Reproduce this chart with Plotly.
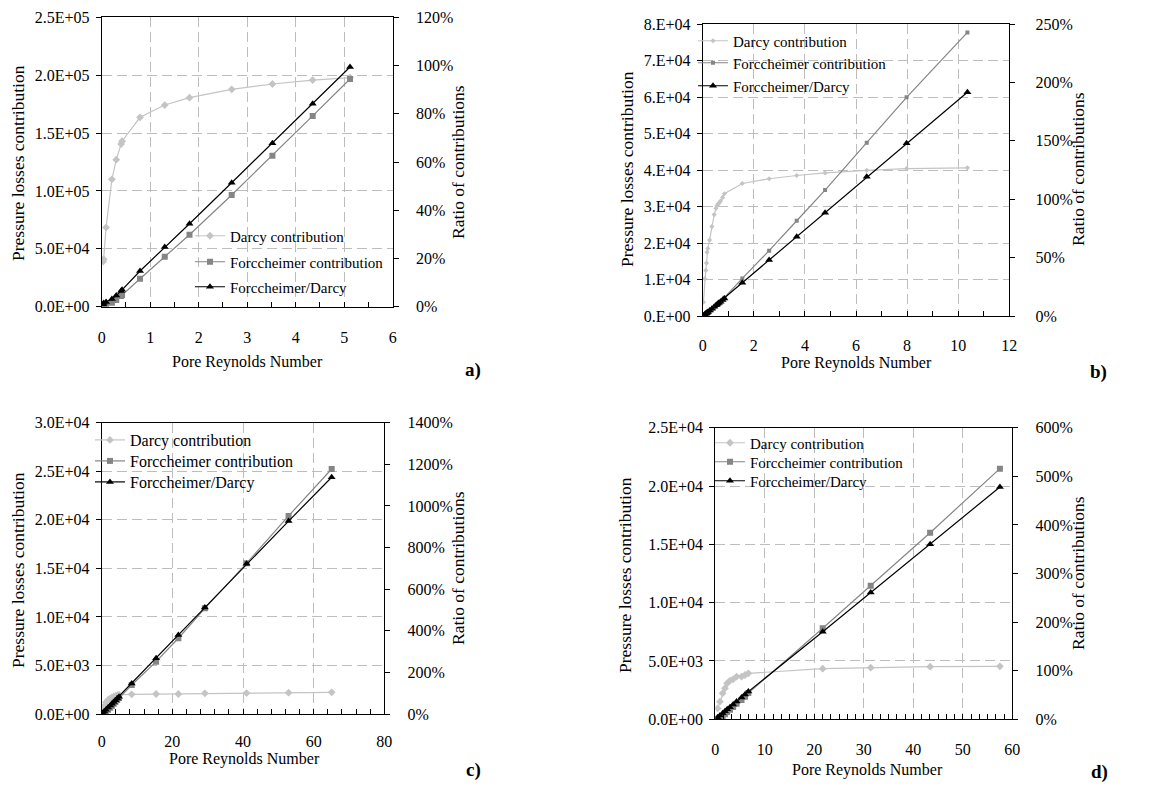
import plotly.graph_objects as go

FONT = "Liberation Serif, Times New Roman, serif"
OFF = 8                      # page body margin of the browser
W, H = 1175 - OFF, 787 - OFF

# ---------------- data ----------------
# a)
a_re = [0.03, 0.04, 0.09, 0.21, 0.30, 0.40, 0.42, 0.79, 1.30, 1.81, 2.68, 3.52, 4.35, 5.12]
a_darcy = [3.9e4, 4.1e4, 6.85e4, 1.10e5, 1.27e5, 1.405e5, 1.43e5, 1.636e5, 1.742e5, 1.806e5, 1.878e5, 1.924e5, 1.958e5, 1.979e5]
a_forch = [400, 600, 1.4e3, 3.5e3, 5.8e3, 9.2e3, 1.0e4, 2.42e4, 4.32e4, 6.22e4, 9.65e4, 1.305e5, 1.648e5, 1.967e5]
a_ratio = [0.010, 0.015, 0.020, 0.032, 0.046, 0.065, 0.070, 0.148, 0.248, 0.344, 0.514, 0.678, 0.842, 0.994]

# b)
b_re = [0.03, 0.08, 0.12, 0.15, 0.17, 0.20, 0.27, 0.36, 0.45, 0.52, 0.56, 0.60, 0.64, 0.70, 0.78, 0.85,
        1.55, 2.60, 3.68, 4.79, 6.42, 7.98, 10.36]
b_darcy = [3.8e3, 1.02e4, 1.25e4, 1.45e4, 1.75e4, 1.85e4, 2.08e4, 2.45e4, 2.78e4, 2.95e4, 3.02e4, 3.06e4,
           3.10e4, 3.15e4, 3.25e4, 3.35e4, 3.63e4, 3.76e4, 3.85e4, 3.92e4, 3.99e4, 4.04e4, 4.06e4]
b_forch = [19, 143, 263, 377, 525, 648, 998, 1544, 2196, 2714, 2990, 3244, 3503, 3875, 4453, 5025,
           1.03e4, 1.79e4, 2.61e4, 3.45e4, 4.75e4, 5.99e4, 7.77e4]
b_ratio = [0.005, 0.014, 0.021, 0.026, 0.030, 0.035, 0.048, 0.063, 0.079, 0.092, 0.099, 0.106, 0.113,
           0.123, 0.137, 0.150, 0.285, 0.479, 0.679, 0.885, 1.193, 1.478, 1.915]

# c)
c_re = [0.3, 0.7, 1.2, 1.8, 2.4, 2.9, 3.4, 3.9, 4.4, 4.9, 8.5, 15.4, 21.7, 29.2, 41.0, 52.9, 65.1]
c_darcy = [350, 800, 1200, 1450, 1600, 1700, 1800, 1870, 1930, 1980, 2030, 2060, 2060, 2130, 2160, 2200, 2230]
c_forch = [18, 96, 240, 450, 656, 833, 1044, 1234, 1448, 1643, 2990, 5390, 7800, 10880, 15520, 20400, 25230]
c_ratio = [0.05, 0.12, 0.20, 0.31, 0.41, 0.49, 0.58, 0.66, 0.75, 0.83, 1.47, 2.68, 3.80, 5.12, 7.22, 9.27, 11.38]

# d)
d_re = [0.47, 0.94, 1.48, 1.95, 2.40, 2.96, 3.60, 4.30, 5.30, 6.00, 6.67, 21.7, 31.4, 43.4, 57.5]
d_darcy = [940, 1510, 2230, 2660, 3090, 3310, 3430, 3660, 3660, 3800, 3940, 4340, 4430, 4510, 4540]
d_forch = [38, 121, 279, 439, 633, 828, 1046, 1336, 1647, 1938, 2246, 7800, 11460, 16000, 21490]
d_ratio = [0.04, 0.08, 0.125, 0.165, 0.205, 0.25, 0.305, 0.365, 0.45, 0.51, 0.57, 1.80, 2.61, 3.60, 4.78]

series_names = ["Darcy contribution", "Forccheimer contribution", "Forccheimer/Darcy"]
x_title = "Pore Reynolds Number"
y_title = "Pressure losses contribution"
y2_title = "Ratio of contributions"

# ---------------- layout helpers (page pixel -> paper fraction) ----------------
def px(x):
    return (x - OFF) / W

def py(y):
    return 1 - (y - OFF) / H

panels = [
    dict(tag="a)", re=a_re, darcy=a_darcy, forch=a_forch, ratio=a_ratio,
         xd=(101.7, 392.7), yd=(17.3, 306.7), xr=6, xdt=1, xmin=0.5, xso=16, rso=14,
         yr=2.5e5, ydt=5e4, yfmt="{:.1E}", rr=1.2, rdt=0.2,
         ms=(6, 6, 7), legx=230, legy=(236, 262, 287), legfs=15,
         ytl=(18, 163), y2tl=(458, 162), xtl=(247, 362), lab=(473, 370)),
    dict(tag="b)", re=b_re, darcy=b_darcy, forch=b_forch, ratio=b_ratio,
         xd=(702.7, 1009.3), yd=(24, 316), xr=12, xdt=2, xmin=1, xso=15, rso=17,
         yr=8e4, ydt=1e4, yfmt="{:#.0E}", rr=2.5, rdt=0.5,
         ms=(4, 4, 7), legx=733, legy=(41, 63, 86), legfs=15,
         ytl=(627, 169), y2tl=(1078, 169), xtl=(856, 363), lab=(1098, 372)),
    dict(tag="c)", re=c_re, darcy=c_darcy, forch=c_forch, ratio=c_ratio,
         xd=(101.7, 384.3), yd=(422.7, 714), xr=80, xdt=20, xmin=4, xso=13, rso=14,
         yr=3e4, ydt=5e3, yfmt="{:.1E}", rr=14, rdt=2,
         ms=(6, 6, 7), legx=130, legy=(440, 461, 482), legfs=16,
         ytl=(18, 570), y2tl=(458, 568), xtl=(244, 759), lab=(473, 770)),
    dict(tag="d)", re=d_re, darcy=d_darcy, forch=d_forch, ratio=d_ratio,
         xd=(715.3, 1012.3), yd=(427.7, 719.3), xr=60, xdt=10, xmin=10 / 6, xso=15, rso=14,
         yr=2.5e4, ydt=5e3, yfmt="{:.1E}", rr=6, rdt=1,
         ms=(6, 6, 7), legx=750, legy=(443, 462, 481), legfs=15,
         ytl=(625, 575), y2tl=(1078, 573), xtl=(867, 770), lab=(1099, 772)),
]

colors = ["#c4c4c4", "#858585", "#000000"]
symbols = ["diamond", "square", "triangle-up"]

fig = go.Figure()
layout = dict(
    width=W, height=H, margin=dict(l=0, r=0, t=0, b=0, autoexpand=False),
    paper_bgcolor="white", plot_bgcolor="white", showlegend=True,
    font=dict(family=FONT, size=16, color="black"),
    annotations=[],
)

leg_idx = 0
for i, p in enumerate(panels):
    n = i + 1
    xa = f"x{n}" if n > 1 else "x"
    ya = f"y{2 * n - 1}" if n > 1 else "y"
    ya2 = f"y{2 * n}"
    ys = [p["darcy"], p["forch"], p["ratio"]]
    yaxes = [ya, ya, ya2]
    for k in range(3):
        leg_idx += 1
        leg = "legend" if leg_idx == 1 else f"legend{leg_idx}"
        fig.add_trace(go.Scatter(
            x=p["re"], y=ys[k], name=series_names[k], mode="lines+markers",
            line=dict(color=colors[k], width=1.2),
            marker=dict(symbol=symbols[k], size=p["ms"][k], color=colors[k]),
            xaxis=xa, yaxis=yaxes[k], legend=leg, showlegend=True))
        layout[leg] = dict(
            x=px(p["legx"] - 40), y=py(p["legy"][k]), xanchor="left", yanchor="middle",
            bgcolor="rgba(0,0,0,0)", borderwidth=0, visible=True,
            font=dict(family=FONT, size=p["legfs"], color="black"),
        )

    xkey = "xaxis" if n == 1 else f"xaxis{n}"
    ykey = "yaxis" if n == 1 else f"yaxis{2 * n - 1}"
    y2key = f"yaxis{2 * n}"
    yanchor = "y" if n == 1 else f"y{2 * n - 1}"

    layout[xkey] = dict(
        domain=[px(p["xd"][0]), px(p["xd"][1])], anchor=yanchor, automargin=False,
        range=[0, p["xr"]], dtick=p["xdt"], tick0=0,
        showline=True, linecolor="black", linewidth=1, mirror=True,
        ticks="inside", ticklen=5, tickcolor="black",
        minor=dict(dtick=p["xmin"], tick0=0, ticks="inside", ticklen=5, tickcolor="black", showgrid=False),
        showgrid=True, gridcolor="#bdbdbd", gridwidth=1, griddash="10px,5px",
        zeroline=False, ticklabelstandoff=p["xso"],
        tickfont=dict(family=FONT, size=16),
    )
    nt = int(round(p["yr"] / p["ydt"]))
    yv = [j * p["ydt"] for j in range(nt + 1)]
    layout[ykey] = dict(
        domain=[py(p["yd"][1]), py(p["yd"][0])], anchor=xa, automargin=False,
        range=[0, p["yr"]], tickvals=yv, ticktext=[p["yfmt"].format(v) for v in yv],
        showline=True, linecolor="black", linewidth=1,
        ticks="outside", ticklen=5, tickcolor="black",
        showgrid=True, gridcolor="#bdbdbd", gridwidth=1, griddash="10px,5px",
        zeroline=False, ticklabelstandoff=3,
        tickfont=dict(family=FONT, size=16),
    )
    layout[y2key] = dict(
        domain=[py(p["yd"][1]), py(p["yd"][0])], anchor=xa, overlaying=yanchor, side="right",
        automargin=False,
        range=[0, p["rr"]], dtick=p["rdt"], tick0=0, tickformat=".0%",
        showline=True, linecolor="black", linewidth=1,
        ticks="outside", ticklen=5, tickcolor="black",
        showgrid=False, zeroline=False, ticklabelstandoff=p["rso"],
        tickfont=dict(family=FONT, size=16),
    )
    ann = layout["annotations"]
    ann.append(dict(text=y_title, x=px(p["ytl"][0]), y=py(p["ytl"][1]), xref="paper", yref="paper",
                    textangle=-90, showarrow=False, xanchor="center", yanchor="middle",
                    font=dict(family=FONT, size=17.5)))
    ann.append(dict(text=y2_title, x=px(p["y2tl"][0]), y=py(p["y2tl"][1]), xref="paper", yref="paper",
                    textangle=-90, showarrow=False, xanchor="center", yanchor="middle",
                    font=dict(family=FONT, size=17.5)))
    ann.append(dict(text=x_title, x=px(p["xtl"][0]), y=py(p["xtl"][1]), xref="paper", yref="paper",
                    showarrow=False, xanchor="center", yanchor="middle",
                    font=dict(family=FONT, size=16)))
    ann.append(dict(text="<b>" + p["tag"] + "</b>", x=px(p["lab"][0]), y=py(p["lab"][1]), xref="paper",
                    yref="paper", showarrow=False, xanchor="center", yanchor="middle",
                    font=dict(family=FONT, size=19)))

fig.update_layout(**layout)
fig.write_html("out.html")
